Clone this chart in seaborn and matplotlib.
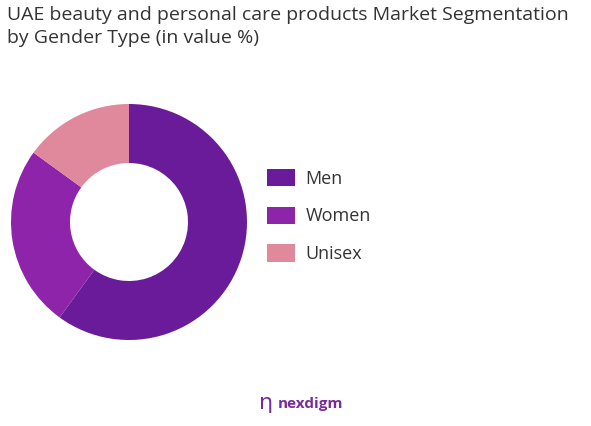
import matplotlib
matplotlib.use("Agg")
import matplotlib.pyplot as plt
import seaborn as sns

sns.set_theme(style="white")
plt.rcParams['font.family'] = ['Open Sans', 'DejaVu Sans']

categories = ["Men", "Women", "Unisex"]
values = [60, 25, 15]
colors = ["#6a1b9a", "#8e24aa", "#e0899d"]

fig = plt.figure(figsize=(5.91, 4.26), dpi=100)
ax = fig.add_axes([-18.5/591, 56.5/426, 295/591, 295/426])
wedges, _ = ax.pie(values, colors=colors, startangle=90, counterclock=False,
                   wedgeprops=dict(width=0.5, edgecolor="none"))
ax.set_xlim(-1.25, 1.25)
ax.set_ylim(-1.25, 1.25)
ax.set_aspect("equal")

fig.text(0.012, 0.985, "UAE beauty and personal care products Market Segmentation\nby Gender Type (in value %)",
         ha="left", va="top", fontsize=14, color="#333333", linespacing=1.3)

leg = fig.legend(wedges, categories, loc="center left", bbox_to_anchor=(0.425, 0.493),
                 frameon=False, fontsize=13, handlelength=1.5, handleheight=1.1,
                 labelspacing=1.05, handletextpad=0.6)
for t in leg.get_texts():
    t.set_color("#333333")

fig.text(0.45, 0.052, "\u019e", ha="center", va="center", fontsize=16, color="#7b2a9c")
fig.text(0.47, 0.052, "nexdigm", ha="left", va="center", fontsize=11, color="#7b2a9c", fontweight="bold")

fig.savefig("out.png", dpi=100)
